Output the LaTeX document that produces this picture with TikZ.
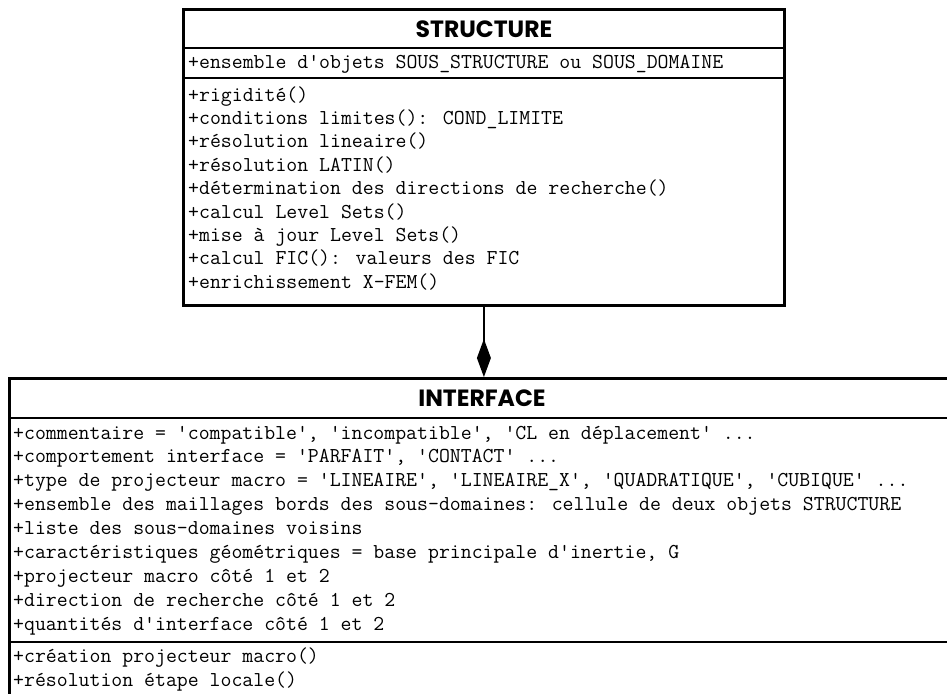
\documentclass[tikz,border=0pt]{standalone}
\usepackage{fontspec}
\newfontfamily\headfont{Poppins}
\usetikzlibrary{arrows.meta}
\begin{document}
\begin{tikzpicture}[x=1pt,y=-1pt,
  box/.style={draw, line width=2.8pt, inner sep=0pt, anchor=north west},
  sepline/.style={line width=2.8pt},
  head/.style={font=\headfont\bfseries\fontsize{23.5}{26}\selectfont, inner sep=0pt},
  item/.style={font=\ttfamily\fontsize{21.2}{24}\selectfont, anchor=base west, inner sep=0pt},
  comp/.style={line width=2.8pt, -{Diamond[length=38pt,width=14pt]}}
]
\useasboundingbox (0,0) rectangle (947,693);
\clip (0,0) rectangle (947,693);
% STRUCTURE class
\node[box, minimum width=601pt, minimum height=296pt] (struct) at (182,8) {};
\draw[sepline] (struct.west |- 0,48) -- (struct.east |- 0,48);
\draw[sepline] (struct.west |- 0,78) -- (struct.east |- 0,78);
\node[head] (sname) at (484,29) {STRUCTURE};
\node[item] (sa1) at (188,68) {+ensemble d'objets SOUS\_STRUCTURE ou SOUS\_DOMAINE};
\node[item] (sm1) at (188,101) {+rigidité()};
\node[item] (sm2) at (188,124.4) {+conditions limites(): COND\_LIMITE};
\node[item] (sm3) at (188,147.8) {+résolution lineaire()};
\node[item] (sm4) at (188,171.2) {+résolution LATIN()};
\node[item] (sm5) at (188,194.6) {+détermination des directions de recherche()};
\node[item] (sm6) at (188,218) {+calcul Level Sets()};
\node[item] (sm7) at (188,241.4) {+mise à jour Level Sets()};
\node[item] (sm8) at (188,264.8) {+calcul FIC(): valeurs des FIC};
\node[item] (sm9) at (188,288.2) {+enrichissement X-FEM()};
% INTERFACE class
\node[box, minimum width=948pt, minimum height=340pt] (iface) at (8,377) {};
\draw[sepline] (iface.west |- 0,418) -- (iface.east |- 0,418);
\draw[sepline] (iface.west |- 0,642) -- (iface.east |- 0,642);
\node[head] (iname) at (482,398) {INTERFACE};
\node[item] (ia1) at (13,439) {+commentaire = 'compatible', 'incompatible', 'CL en déplacement' ...};
\node[item] (ia2) at (13,462.9) {+comportement interface = 'PARFAIT', 'CONTACT' ...};
\node[item] (ia3) at (13,486.8) {+type de projecteur macro = 'LINEAIRE', 'LINEAIRE\_X', 'QUADRATIQUE', 'CUBIQUE' ...};
\node[item] (ia4) at (13,510.7) {+ensemble des maillages bords des sous-domaines: cellule de deux objets STRUCTURE};
\node[item] (ia5) at (13,534.6) {+liste des sous-domaines voisins};
\node[item] (ia6) at (13,558.5) {+caractéristiques géométriques = base principale d'inertie, G};
\node[item] (ia7) at (13,582.4) {+projecteur macro côté 1 et 2};
\node[item] (ia8) at (13,606.3) {+direction de recherche côté 1 et 2};
\node[item] (ia9) at (13,630.2) {+quantités d'interface côté 1 et 2};
\node[item] (im1) at (13,662) {+création projecteur macro()};
\node[item] (im2) at (13,686) {+résolution étape locale()};
% composition connector
\draw[comp] (struct.south) -- (iface.north -| struct.south);
\end{tikzpicture}
\end{document}
